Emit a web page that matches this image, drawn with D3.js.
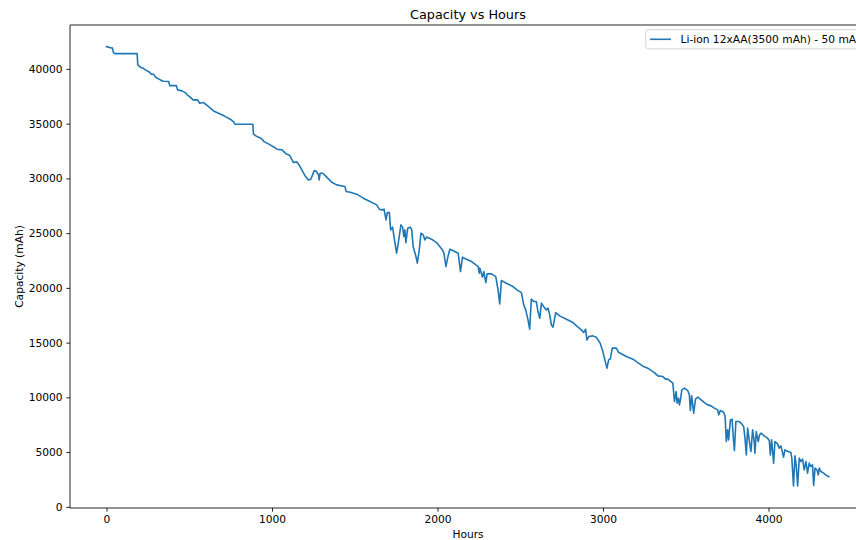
<!DOCTYPE html>
<html>
<head>
<meta charset="utf-8">
<script src="https://cdn.jsdelivr.net/npm/d3@7"></script>
<style>
  html, body { margin: 0; padding: 0; background: #fff; overflow: hidden; }
  svg { display: block; font-family: "DejaVu Sans", sans-serif; overflow: hidden; }
</style>
</head>
<body>
<svg id="chart" width="856" height="540"></svg>
<script>
// ---- data ----
const title = "Capacity vs Hours";
const xLabel = "Hours";
const yLabel = "Capacity (mAh)";
const seriesName = "Li-ion 12xAA(3500 mAh) - 50 mA";
const xTicks = [0, 1000, 2000, 3000, 4000];
const yTicks = [0, 5000, 10000, 15000, 20000, 25000, 30000, 35000, 40000];

const hours = [
  0, 30, 36, 42, 50, 185, 189, 205, 221, 235, 261, 270, 285, 296, 326, 342, 376, 382, 422, 430,
  456, 476, 486, 502, 523, 551, 563, 587, 617, 647, 677, 704, 718, 748, 768, 776, 884, 888, 909, 933,
  953, 989, 1013, 1030, 1060, 1086, 1106, 1130, 1150, 1160, 1180, 1200, 1220, 1235, 1255, 1267, 1281, 1285, 1291, 1307,
  1331, 1361, 1391, 1441, 1448, 1472, 1512, 1552, 1592, 1633, 1648, 1663, 1677, 1689, 1697, 1709, 1717, 1729, 1737, 1753,
  1763, 1779, 1789, 1797, 1803, 1809, 1820, 1834, 1844, 1853, 1870, 1878, 1890, 1900, 1914, 1924, 1934, 1964, 1994, 2014,
  2030, 2039, 2051, 2063, 2075, 2105, 2125, 2139, 2151, 2175, 2206, 2232, 2246, 2252, 2256, 2272, 2280, 2292, 2300, 2326,
  2352, 2366, 2376, 2386, 2416, 2456, 2480, 2507, 2521, 2533, 2547, 2557, 2567, 2581, 2597, 2607, 2618, 2628, 2648, 2658,
  2668, 2678, 2688, 2698, 2714, 2738, 2779, 2819, 2849, 2869, 2883, 2895, 2903, 2915, 2939, 2959, 2983, 2999, 3016, 3024,
  3034, 3044, 3056, 3080, 3096, 3141, 3181, 3211, 3245, 3271, 3292, 3311, 3331, 3362, 3378, 3392, 3422, 3432, 3442, 3448,
  3456, 3462, 3468, 3476, 3492, 3512, 3522, 3528, 3536, 3548, 3559, 3573, 3593, 3613, 3633, 3653, 3673, 3693, 3699, 3709,
  3729, 3738, 3745, 3753, 3759, 3770, 3780, 3786, 3794, 3803, 3824, 3838, 3850, 3858, 3866, 3874, 3886, 3894, 3904, 3914,
  3918, 3926, 3938, 3946, 3955, 3975, 3994, 4005, 4011, 4019, 4031, 4039, 4055, 4065, 4075, 4091, 4099, 4119, 4135, 4141,
  4151, 4160, 4168, 4176, 4186, 4196, 4206, 4216, 4226, 4236, 4246, 4256, 4266, 4273, 4281, 4293, 4301, 4307, 4317, 4333,
  4353, 4365
];
const capacity = [
  42037, 41918, 41900, 41488, 41400, 41400, 40365, 40155, 40064, 39909, 39699, 39516, 39516, 39242, 38995, 38876, 38850, 38475, 38475, 38082,
  37991, 37836, 37653, 37470, 37169, 37169, 36865, 36927, 36560, 36164, 35954, 35772, 35644, 35406, 35160, 34950, 34950, 34037, 33820, 33672,
  33361, 33059, 32849, 32667, 32603, 32237, 32119, 31443, 31507, 31324, 30776, 30228, 29863, 29920, 30712, 30653, 30320, 29863, 30474, 30474,
  30110, 29653, 29406, 29251, 28795, 28740, 28557, 28192, 27882, 27580, 27187, 27123, 27187, 26210, 26877, 26877, 25297, 25543, 24685, 23169,
  24082, 25753, 25550, 24685, 25297, 24137, 25448, 25543, 25350, 23772, 22857, 22256, 23470, 24994, 24840, 24384, 24650, 24447, 24137, 23772,
  23470, 23169, 21945, 22857, 23534, 23315, 23169, 21489, 22804, 22621, 22402, 22100, 21945, 21342, 21800, 20977, 21489, 20484, 21279, 21279,
  21032, 19817, 18539, 20667, 20429, 20119, 19817, 19570, 18447, 17991, 17078, 16228, 18968, 18757, 18757, 17836, 17233, 18603, 18146, 17991,
  18146, 17534, 16621, 16411, 17746, 17443, 17138, 16832, 16411, 16164, 15918, 16228, 15251, 15552, 15616, 15495, 14950, 14183, 13123, 12667,
  13425, 13500, 14493, 14493, 14091, 13726, 13489, 13178, 12813, 12667, 12447, 12265, 11963, 11900, 11662, 11662, 11297, 9617, 10530, 9470,
  9927, 9315, 9772, 10685, 10840, 10621, 10228, 8794, 10137, 8557, 9835, 10018, 9772, 9525, 9315, 9224, 9014, 8858, 8402, 8794,
  8648, 8247, 5964, 7032, 6119, 7945, 8009, 6575, 5142, 7790, 7790, 7580, 7333, 6274, 4749, 7187, 5817, 5050, 7032, 5964,
  4904, 6877, 5964, 6575, 6731, 6484, 6274, 6055, 4749, 6119, 3991, 5964, 5753, 5361, 5571, 4538, 5205, 5050, 4963, 4447,
  1900, 4658, 3680, 1900, 4447, 4137, 4356, 3379, 4137, 3078, 3991, 3680, 3836, 1950, 3534, 3379, 2922, 3534, 3224, 3078,
  2831, 2750
];

// ---- layout ----
const svg = d3.select("#chart");
const fs = 10.67;            // base font size (px)
const mLeft = 70, mTop = 25, mBottom = 508;
const xDomain = [-220.5, 4630];
const yDomain = [-105, 44010];
const pxPerHour = 0.1655;
const mRight = mLeft + (xDomain[1] - xDomain[0]) * pxPerHour;
const textCenter = 468;

const x = d3.scaleLinear().domain(xDomain).range([mLeft, mRight]);
const y = d3.scaleLinear().domain(yDomain).range([mBottom, mTop]);

const data = hours.map((h, i) => ({ h, c: capacity[i] }));

// line
const line = d3.line().x(d => x(d.h)).y(d => y(d.c));
svg.append("path")
  .datum(data)
  .attr("fill", "none")
  .attr("stroke", "#1f77b4")
  .attr("stroke-width", 1.6)
  .attr("stroke-linejoin", "round")
  .attr("stroke-linecap", "square")
  .attr("d", line);

// spines
const sp = svg.append("g").attr("stroke", "#000").attr("stroke-width", 0.85).attr("fill", "none");
sp.append("line").attr("x1", mLeft).attr("x2", mLeft).attr("y1", mTop).attr("y2", mBottom);
sp.append("line").attr("x1", mLeft).attr("x2", mRight).attr("y1", mTop).attr("y2", mTop);
sp.append("line").attr("x1", mLeft).attr("x2", mRight).attr("y1", mBottom).attr("y2", mBottom);
sp.append("line").attr("x1", mRight).attr("x2", mRight).attr("y1", mTop).attr("y2", mBottom);

// axes
const xAxis = d3.axisBottom(x).tickValues(xTicks).tickSize(3.7).tickPadding(3.7).tickFormat(d3.format("d"));
const gx = svg.append("g").attr("transform", `translate(0,${mBottom})`).call(xAxis);
const yAxis = d3.axisLeft(y).tickValues(yTicks).tickSize(3.7).tickPadding(3.7).tickFormat(d3.format("d"));
const gy = svg.append("g").attr("transform", `translate(${mLeft},0)`).call(yAxis);
[gx, gy].forEach(g => {
  g.select(".domain").remove();
  g.selectAll(".tick line").attr("stroke", "#000").attr("stroke-width", 0.85);
  g.selectAll(".tick text").attr("fill", "#000").style("font-size", fs + "px").style("font-family", "DejaVu Sans");
});

// title & labels
svg.append("text").attr("x", textCenter).attr("y", 18.5)
  .attr("text-anchor", "middle").style("font-size", "12.8px").attr("fill", "#000").text(title);
svg.append("text").attr("x", textCenter).attr("y", 537.5)
  .attr("text-anchor", "middle").style("font-size", fs + "px").attr("fill", "#000").text(xLabel);
svg.append("text").attr("transform", `translate(22.5,${(mTop + mBottom) / 2}) rotate(-90)`)
  .attr("text-anchor", "middle").style("font-size", fs + "px").attr("fill", "#000").text(yLabel);

// legend
const lg = svg.append("g");
lg.append("rect").attr("x", 645.7).attr("y", 29.7).attr("width", 260).attr("height", 19.2)
  .attr("rx", 2.5).attr("fill", "#fff").attr("fill-opacity", 0.8).attr("stroke", "#cccccc").attr("stroke-width", 0.85);
lg.append("line").attr("x1", 650).attr("x2", 671).attr("y1", 39.3).attr("y2", 39.3)
  .attr("stroke", "#1f77b4").attr("stroke-width", 1.6);
lg.append("text").attr("x", 680.5).attr("y", 43.2).style("font-size", fs + "px").attr("fill", "#000").text(seriesName);
</script>
</body>
</html>
